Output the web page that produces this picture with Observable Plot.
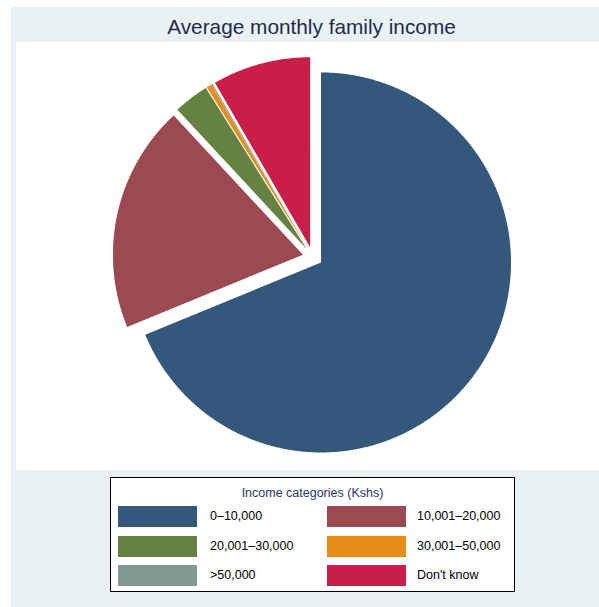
<!DOCTYPE html>
<html>
<head>
<meta charset="utf-8">
<script src="https://cdn.jsdelivr.net/npm/d3@7"></script>
<script src="https://cdn.jsdelivr.net/npm/@observablehq/plot@0.6"></script>
<style>
  html, body { margin: 0; padding: 0; background: #ffffff; }
  #page { position: relative; width: 599px; height: 607px; overflow: hidden; background: #ffffff;
          font-family: "Liberation Sans", Arial, sans-serif; }
  #panel { position: absolute; left: 11px; top: 7px; width: 588px; height: 600px; background: #eaf1f3; }
  #title { position: absolute; left: 20px; width: 583px; top: 14px; text-align: center;
           font-size: 20.8px; color: #1e2b4e; line-height: 26px; white-space: nowrap; }
  #chart { position: absolute; left: 16px; top: 42px; width: 583px; height: 428px; background: #ffffff; }
  #chart svg { display: block; }
  #legend { position: absolute; left: 110px; top: 477px; width: 405px; height: 115px;
            border: 1px solid #000; background: #ffffff; box-sizing: border-box; }
  #legend .ltitle { position: absolute; left: 0; width: 100%; top: 8px; text-align: center;
                    font-size: 12.5px; color: #2a3763; }
  #legend .sw { position: absolute; width: 79px; height: 21px; }
  #legend .lab { position: absolute; font-size: 12.5px; color: #000; line-height: 21px; white-space: nowrap; }
</style>
</head>
<body>
<div id="page">
  <div id="panel"></div>
  <div id="title"></div>
  <div id="chart"></div>
  <div id="legend"></div>
</div>
<script>
// ---- data ----
const titleText = "Average monthly family income";
const legendTitle = "Income categories (Kshs)";
const categories = ["0–10,000", "10,001–20,000", "20,001–30,000", "30,001–50,000", ">50,000", "Don't know"];
const shares = [68.8, 19.3, 3.0, 0.45, 0.1, 8.35];
const colors = ["#33587b", "#9a4a50", "#668243", "#e88c1c", "#809991", "#c81e48"];

// ---- layout ----
const W = 583, H = 428;
const explode = 10 / 190;           // explode distance relative to radius
const xDomain = [-296.2 / 190, (W - 296.2) / 190];
const yDomain = [-(H - 214.4) / 190, 214.4 / 190];

document.getElementById("title").textContent = titleText;

const rows = categories.map((c, i) => ({cat: c, share: shares[i]}));
const arcs = d3.pie().sort(null).value(d => d.share)(rows);

const pts = [];
for (const a of arcs) {
  const a0 = a.startAngle, a1 = a.endAngle, mid = (a0 + a1) / 2;
  const ox = explode * Math.sin(mid), oy = explode * Math.cos(mid);
  pts.push({cat: a.data.cat, x: ox, y: oy});
  const n = Math.max(2, Math.ceil((a1 - a0) / 0.005));
  for (let k = 0; k <= n; k++) {
    const t = a0 + (a1 - a0) * k / n;
    pts.push({cat: a.data.cat, x: ox + Math.sin(t), y: oy + Math.cos(t)});
  }
}

const chart = Plot.plot({
  width: W,
  height: H,
  margin: 0,
  style: {background: "#ffffff"},
  x: {domain: xDomain, axis: null},
  y: {domain: yDomain, axis: null},
  color: {domain: categories, range: colors},
  marks: [
    Plot.line(pts, {x: "x", y: "y", z: "cat", fill: "cat", stroke: "none", curve: "linear-closed"})
  ]
});
document.getElementById("chart").appendChild(chart);

// ---- legend ----
const legend = document.getElementById("legend");
const lt = document.createElement("div");
lt.className = "ltitle";
lt.textContent = legendTitle;
legend.appendChild(lt);
const colSw = [7, 216], colLab = [99, 306];
const rowTop = [28, 57.5, 87];
categories.forEach((c, i) => {
  const col = i % 2, row = Math.floor(i / 2);
  const sw = document.createElement("div");
  sw.className = "sw";
  sw.style.left = colSw[col] + "px";
  sw.style.top = rowTop[row] + "px";
  sw.style.background = colors[i];
  legend.appendChild(sw);
  const lab = document.createElement("div");
  lab.className = "lab";
  lab.style.left = colLab[col] + "px";
  lab.style.top = rowTop[row] + "px";
  lab.textContent = c;
  legend.appendChild(lab);
});
</script>
</body>
</html>
